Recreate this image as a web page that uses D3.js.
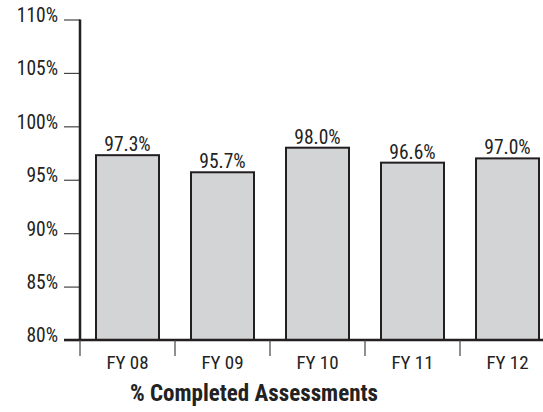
<!DOCTYPE html>
<html>
<head>
<meta charset="utf-8">
<script src="https://cdn.jsdelivr.net/npm/d3@7"></script>
<style>
  html, body { margin: 0; padding: 0; background: #fff; }
  svg { display: block; }
  text { font-family: "Roboto Condensed", "Liberation Sans Narrow", "Arial Narrow", "Liberation Sans", sans-serif; fill: #222; }
</style>
</head>
<body>
<svg id="chart" width="543" height="412"></svg>
<script>
const categories = ["FY 08", "FY 09", "FY 10", "FY 11", "FY 12"];
const values = [97.3, 95.7, 98.0, 96.6, 97.0];
const yTicks = [80, 85, 90, 95, 100, 105, 110];
const title = "% Completed Assessments";

const fontStack = '"Roboto Condensed", "Liberation Sans Narrow", "Arial Narrow", "Liberation Sans", sans-serif';
const svg = d3.select("#chart");
const plotLeft = 80, plotRight = 555, plotTop = 19.5, plotBottom = 340;

const x = d3.scaleBand().domain(categories).range([plotLeft, plotRight]).paddingInner(0).paddingOuter(0);
const y = d3.scaleLinear().domain([80, 110]).range([plotBottom, plotTop]);

// bars
const bw = 63;
svg.selectAll("rect.bar").data(values).enter().append("rect")
  .attr("class", "bar")
  .attr("x", (d, i) => x(categories[i]) + x.bandwidth() / 2 - bw / 2)
  .attr("y", d => y(d))
  .attr("width", bw)
  .attr("height", d => y(80) - y(d))
  .attr("fill", "#d3d4d6")
  .attr("stroke", "#231f20")
  .attr("stroke-width", 2);

// value labels
svg.selectAll("text.val").data(values).enter().append("text")
  .attr("class", "val")
  .attr("x", (d, i) => x(categories[i]) + x.bandwidth() / 2)
  .attr("y", d => y(d) - 4)
  .attr("text-anchor", "middle")
  .attr("font-size", 19.5)
  .text(d => d.toFixed(1) + "%");

// y axis
const yAxis = d3.axisLeft(y).tickValues(yTicks).tickFormat(d => d + "%").tickSize(16).tickPadding(6);
const gy = svg.append("g").attr("transform", `translate(${plotLeft},0)`).call(yAxis)
  .attr("font-family", fontStack);
gy.select(".domain").remove();
gy.selectAll(".tick line").attr("stroke", "#444").attr("stroke-width", 1.2);
gy.selectAll(".tick text").attr("font-size", 19.5).attr("fill", "#222").attr("dy", "0.1em")
  .style("font-family", fontStack);
svg.append("line").attr("x1", plotLeft).attr("x2", plotLeft).attr("y1", y(110)).attr("y2", plotBottom + 1)
  .attr("stroke", "#231f20").attr("stroke-width", 2.5);

// x axis
svg.append("line").attr("x1", plotLeft - 16).attr("x2", 543).attr("y1", plotBottom).attr("y2", plotBottom)
  .attr("stroke", "#231f20").attr("stroke-width", 2.5);
const bounds = categories.map(c => x(c));
svg.selectAll("line.xt").data(bounds).enter().append("line")
  .attr("class", "xt")
  .attr("x1", d => d).attr("x2", d => d)
  .attr("y1", plotBottom).attr("y2", plotBottom + 16)
  .attr("stroke", "#444").attr("stroke-width", 1.2);
svg.selectAll("text.xl").data(categories).enter().append("text")
  .attr("class", "xl")
  .attr("x", d => x(d) + x.bandwidth() / 2)
  .attr("y", 369)
  .attr("text-anchor", "middle")
  .attr("font-size", 19)
  .text(d => d);

// title
svg.append("text")
  .attr("x", 254).attr("y", 401)
  .attr("text-anchor", "middle")
  .attr("font-size", 23)
  .attr("font-weight", "bold")
  .text(title);
</script>
</body>
</html>
